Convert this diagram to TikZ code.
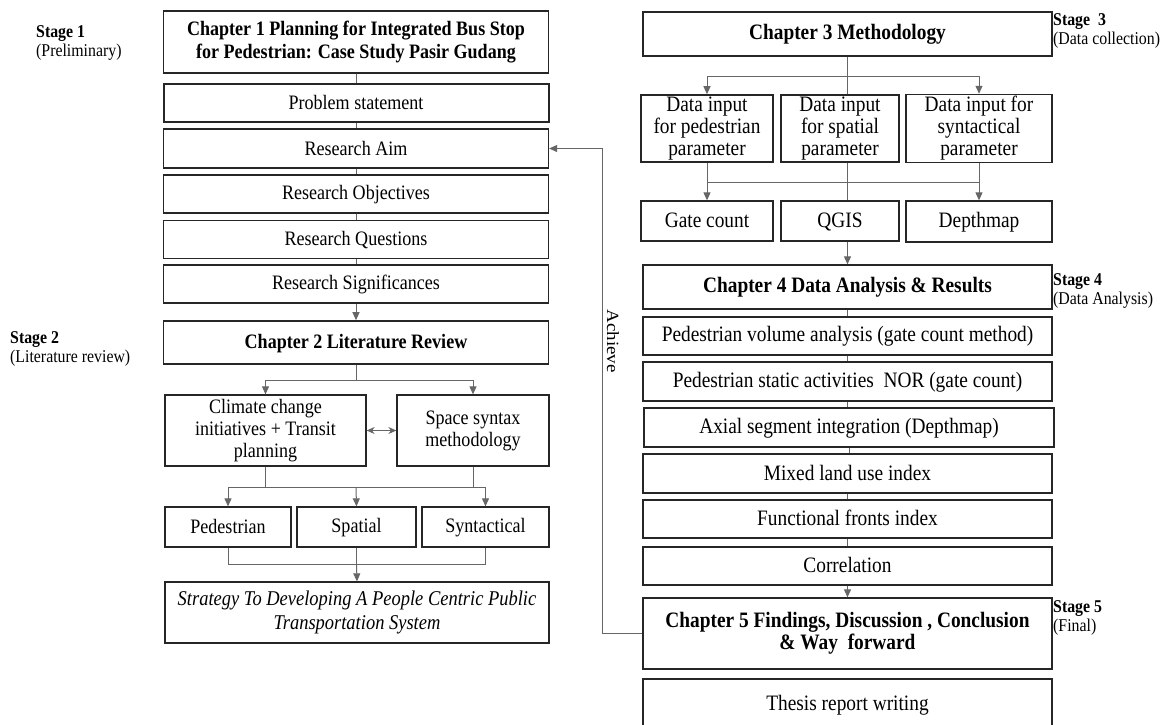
\documentclass[tikz,border=0pt]{standalone}
\usepackage{graphicx}
\usepackage{fontspec}
\setmainfont{Liberation Serif}
\usetikzlibrary{arrows.meta}

% narrow text, as in the scanned chart
\newcommand{\sq}[1]{\scalebox{0.88}[1]{#1}}
\newcommand{\bstrut}{\rule[-3pt]{0pt}{19pt}}

\begin{document}
\begin{tikzpicture}[x=1pt,y=-1pt,
  box/.style={draw=black!85,line width=1.3pt,align=center,inner sep=2pt,
    font=\fontsize{20.5}{22}\selectfont,
    execute at begin node=\bstrut,execute at end node=\bstrut},
  rbox/.style={box,font=\fontsize{22}{22}\selectfont},
  chap/.style={box,font=\fontsize{20.5}{23}\selectfont\bfseries},
  rchap/.style={box,font=\fontsize{22}{22}\selectfont\bfseries},
  link/.style={draw=black!60,line width=1pt},
  arr/.style={link,-{Triangle[length=8pt,width=7pt]}},
  stage/.style={anchor=west,align=left,inner sep=0pt,
    font=\fontsize{18}{19}\selectfont}]

\clip (0,0) rectangle (1168,724);
\fill[white] (0,0) rectangle (1168,724);

% Stage labels
\node[stage] (st1) at (36,43) {\sq{\textbf{Stage 1}}\\\sq{(Preliminary)}};
\node[stage] (st2) at (10,349) {\sq{\textbf{Stage 2}}\\\sq{(Literature review)}};
\node[stage] (st3) at (1053,31) {\sq{\textbf{Stage\enspace 3}}\\\sq{(Data collection)}};
\node[stage] (st4) at (1053,290.5) {\sq{\textbf{Stage 4}}\\\sq{(Data Analysis)}};
\node[stage] (st5) at (1053,617.5) {\sq{\textbf{Stage 5}}\\\sq{(Final)}};

% Left column
\node[chap,minimum width=385,minimum height=62] (ch1) at (356,42)
  {\sq{Chapter 1 Planning for Integrated Bus Stop}\\\sq{for Pedestrian: Case Study Pasir Gudang}};
\node[box,line width=2pt,minimum width=385,minimum height=38] (prob) at (356,103) {\sq{Problem statement}};
\node[box,minimum width=385,minimum height=39] (aim) at (356,148.5) {\sq{Research Aim}};
\node[box,minimum width=385,minimum height=38] (obj) at (356,194) {\sq{Research Objectives}};
\node[box,minimum width=385,minimum height=38] (ques) at (356,239.5) {\sq{Research Questions}};
\node[box,minimum width=385,minimum height=38] (sig) at (356,284) {\sq{Research Significances}};
\node[chap,line width=1.6pt,minimum width=385,minimum height=43] (ch2) at (356,342.5) {\sq{Chapter 2 Literature Review}};

\node[box,minimum width=201,minimum height=71] (climate) at (265.5,430.5)
  {\sq{Climate change}\\\sq{initiatives + Transit}\\\sq{planning}};
\node[box,minimum width=152,minimum height=71] (space) at (473,430.5)
  {\sq{Space syntax}\\\sq{methodology}};

\node[box,minimum width=126,minimum height=40] (ped) at (228,527) {\sq{Pedestrian}};
\node[box,minimum width=119,minimum height=40] (spat) at (356.5,527) {\sq{Spatial}};
\node[box,minimum width=127,minimum height=40] (synt) at (485.5,527) {\sq{Syntactical}};

\node[box,minimum width=384,minimum height=61,font=\fontsize{21}{24}\selectfont\itshape] (strat) at (357,612.5)
  {\sq{Strategy To Developing A People Centric Public}\\\sq{Transportation System}};

% Right column
\node[rchap,minimum width=409,minimum height=44] (ch3) at (847.5,34) {\sq{Chapter 3 Methodology}};

\node[rbox,minimum width=132,minimum height=67] (pin) at (707,128.5) {\sq{Data input}\\\sq{for pedestrian}\\\sq{parameter}};
\node[rbox,minimum width=118,minimum height=67] (sin) at (840,128.5) {\sq{Data input}\\\sq{for spatial}\\\sq{parameter}};
\node[rbox,minimum width=146,minimum height=67] (yin) at (979,128.5) {\sq{Data input for}\\\sq{syntactical}\\\sq{parameter}};

\node[rbox,minimum width=132,minimum height=40] (gate) at (707,221) {\sq{Gate count}};
\node[rbox,minimum width=118,minimum height=40] (qgis) at (840,221) {\sq{QGIS}};
\node[rbox,minimum width=146,minimum height=41] (depth) at (979,221.5) {\sq{Depthmap}};

\node[rchap,minimum width=409,minimum height=44] (ch4) at (847.5,287) {\sq{Chapter 4 Data Analysis \& Results}};
\node[rbox,minimum width=409,minimum height=38] (vol) at (847.5,336) {\sq{Pedestrian volume analysis (gate count method)}};
\node[rbox,minimum width=409,minimum height=39] (stat) at (847.5,381.5) {\sq{Pedestrian static activities\ \ NOR (gate count)}};
\node[rbox,line width=2pt,minimum width=410,minimum height=39] (axial) at (849,427.5) {\sq{Axial segment integration (Depthmap)}};
\node[rbox,minimum width=409,minimum height=39] (mixed) at (847.5,473.5) {\sq{Mixed land use index}};
\node[rbox,minimum width=409,minimum height=38] (func) at (847.5,519) {\sq{Functional fronts index}};
\node[rbox,minimum width=409,minimum height=38] (corr) at (847.5,566) {\sq{Correlation}};
\node[rchap,minimum width=409,minimum height=71] (ch5) at (847.5,633.5)
  {\sq{Chapter 5 Findings, Discussion , Conclusion}\\\sq{\& Way\ \ forward}};
\node[rbox,minimum width=409,minimum height=52] (thesis) at (847.5,705) {\sq{Thesis report writing}};

% Left connectors
\foreach \a/\b in {ch1/prob,prob/aim,aim/obj,obj/ques,ques/sig}
{
  \draw[link] (\a.south) -- (\b.north);
}
\draw[arr] (sig.south) -- (ch2.north);

\coordinate (s2) at (356,380);
\draw[link] (ch2.south) -- (s2);
\draw[arr] (s2) -| (climate.north);
\draw[arr] (s2) -| (space.north);
\draw[link,{Stealth[length=8pt,width=7pt]}-{Stealth[length=8pt,width=7pt]}] (climate.east) -- (space.west);

\coordinate (m1) at (356,487);
\draw[link] (climate.south) -- (climate.south |- m1);
\draw[link] (space.south) -- (space.south |- m1);
\draw[link] (ped.north |- m1) -- (synt.north |- m1);
\draw[arr] (ped.north |- m1) -- (ped.north);
\draw[arr] (m1) -- (spat.north);
\draw[arr] (synt.north |- m1) -- (synt.north);

\coordinate (m2) at (356,564);
\draw[link] (ped.south) -- (ped.south |- m2) -- (synt.south |- m2) -- (synt.south);
\draw[link] (spat.south) -- (spat.south |- m2);
\draw[arr] (spat.south |- m2) -- (strat.north);

% Right connectors
\coordinate (s3) at (847.5,76);
\draw[link] (ch3.south) -- (ch3.south |- sin.north);
\draw[link] (pin.north |- s3) -- (yin.north |- s3);
\draw[arr] (pin.north |- s3) -- (pin.north);
\draw[arr] (yin.north |- s3) -- (yin.north);

\coordinate (m3) at (847.5,182);
\draw[link] (pin.south) -- (pin.south |- m3) -- (yin.south |- m3) -- (yin.south);
\draw[arr] (pin.south |- m3) -- (gate.north);
\draw[arr] (yin.south |- m3) -- (depth.north);
\draw[link] (sin.south -| ch3.south) -- (qgis.north -| ch3.south);
\draw[arr] (qgis.south -| ch4.north) -- (ch4.north);

\foreach \a/\b in {ch4/vol,vol/stat,stat/axial,axial/mixed,mixed/func,func/corr}
{
  \draw[link] (\a.south) -- (\a.south |- \b.north);
}
\draw[arr] (corr.south) -- (ch5.north);

% Achieve loop
\coordinate (ach) at (602.5,633.5);
\draw[arr] (ch5.west) -- (ach) |- (aim.east);
\node[rotate=-90,font=\fontsize{19}{22}\selectfont] (achlbl) at (613,341) {\scalebox{1}[0.9]{Achieve}};

\end{tikzpicture}
\end{document}
